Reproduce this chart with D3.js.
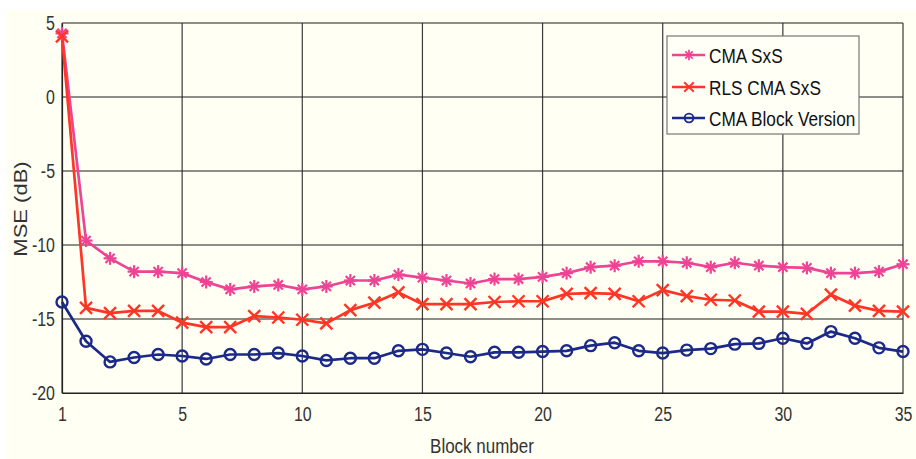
<!DOCTYPE html>
<html><head><meta charset="utf-8">
<script src="https://cdn.jsdelivr.net/npm/d3@7/dist/d3.min.js"></script>
<style>
body{margin:0;background:#fff;}
text{font-family:"Liberation Sans",Arial,sans-serif;}
</style></head>
<body><svg id="c" width="916" height="459"></svg>
<script>
const blocks = d3.range(0, 36);
const cmaSxS = [4.3,-9.7,-10.9,-11.8,-11.8,-11.9,-12.5,-13.0,-12.8,-12.7,-13.0,-12.8,-12.4,-12.4,-12.0,-12.2,-12.4,-12.6,-12.3,-12.3,-12.15,-11.9,-11.5,-11.4,-11.1,-11.1,-11.2,-11.5,-11.2,-11.4,-11.5,-11.55,-11.9,-11.9,-11.8,-11.3];
const rlsCmaSxS = [4.1,-14.25,-14.6,-14.45,-14.45,-15.25,-15.55,-15.55,-14.8,-14.9,-15.05,-15.3,-14.4,-13.9,-13.2,-14.0,-14.0,-14.0,-13.85,-13.8,-13.8,-13.3,-13.25,-13.3,-13.8,-13.05,-13.45,-13.7,-13.75,-14.5,-14.5,-14.65,-13.35,-14.1,-14.45,-14.5];
const cmaBlock = [-13.85,-16.5,-17.9,-17.6,-17.4,-17.5,-17.7,-17.4,-17.4,-17.3,-17.5,-17.8,-17.65,-17.65,-17.15,-17.05,-17.3,-17.55,-17.25,-17.25,-17.2,-17.15,-16.8,-16.6,-17.15,-17.3,-17.1,-17.0,-16.7,-16.65,-16.3,-16.65,-15.85,-16.3,-16.95,-17.2];
const xTicks = [0,5,10,15,20,25,30,35];
const xTickLabels = ["1","5","10","15","20","25","30","35"];
const yTicks = [-20,-15,-10,-5,0,5];
const seriesNames = ["CMA SxS","RLS CMA SxS","CMA Block Version"];

const svg = d3.select("#c");
const m = {l:62, t:23, r:903, b:393};
svg.append("rect").attr("x",6).attr("y",10).attr("width",910).attr("height",449).attr("fill","#fffff3");

const x = d3.scaleLinear().domain([0,35]).range([m.l,m.r]);
const y = d3.scaleLinear().domain([-20,5]).range([m.b,m.t]);

// grid
const g = svg.append("g");
g.selectAll(".vg").data(xTicks).join("line").attr("x1",d=>x(d)).attr("x2",d=>x(d)).attr("y1",m.t).attr("y2",m.b).attr("stroke","#3a3a3a").attr("stroke-width",1.2);
g.selectAll(".hg").data(yTicks).join("line").attr("y1",d=>y(d)).attr("y2",d=>y(d)).attr("x1",m.l).attr("x2",m.r).attr("stroke","#1e1e1e").attr("stroke-width",1.2);

// axes
const xa = svg.append("g").attr("transform",`translate(0,${m.b})`).call(d3.axisBottom(x).tickValues(xTicks).tickFormat((d,i)=>xTickLabels[i]).tickSize(0).tickPadding(12));
const ya = svg.append("g").attr("transform",`translate(${m.l},0)`).call(d3.axisLeft(y).tickValues(yTicks).tickFormat(d=>d).tickSize(0));
[xa,ya].forEach(a=>{a.select(".domain").attr("stroke","#222").attr("stroke-width",1.2);a.selectAll("text").attr("font-size",21).attr("fill","#333");});
xa.selectAll("text").attr("dy","0.75em").attr("transform","scale(0.76,1)");
ya.selectAll("text").attr("x",0).attr("transform","translate(-7,0) scale(0.76,1)");
svg.append("text").attr("transform","translate(482,453) scale(0.85,1)").attr("text-anchor","middle").attr("font-size",20).attr("fill","#333").text("Block number");
svg.append("text").attr("transform","translate(27,209) rotate(-90) scale(1,0.8)").attr("text-anchor","middle").attr("font-size",22).attr("fill","#333").text("MSE (dB)");

const colors = ["#ee4495","#ff3525","#1b2a8a"];
const data = [cmaSxS, rlsCmaSxS, cmaBlock];
const line = d3.line().x((d,i)=>x(blocks[i])).y(d=>y(d));

function marker(sel, type, color){
  if(type===0){ // asterisk
    const r=6.5;
    [0,45,90,135].forEach(a=>{
      const rad=a*Math.PI/180;
      sel.append("line").attr("x1",-r*Math.cos(rad)).attr("y1",-r*Math.sin(rad)).attr("x2",r*Math.cos(rad)).attr("y2",r*Math.sin(rad)).attr("stroke",color).attr("stroke-width",2.2);
    });
  } else if(type===1){ // x
    const r=6;
    sel.append("line").attr("x1",-r).attr("y1",-r).attr("x2",r).attr("y2",r).attr("stroke",color).attr("stroke-width",2.4);
    sel.append("line").attr("x1",-r).attr("y1",r).attr("x2",r).attr("y2",-r).attr("stroke",color).attr("stroke-width",2.4);
  } else {
    sel.append("circle").attr("r",5.5).attr("fill","none").attr("stroke",color).attr("stroke-width",2.4);
  }
}

data.forEach((vals,k)=>{
  svg.append("path").datum(vals).attr("d",line).attr("fill","none").attr("stroke",colors[k]).attr("stroke-width",2.7).attr("stroke-linejoin","round");
});
data.forEach((vals,k)=>{
  vals.forEach((v,i)=>{
    const mg = svg.append("g").attr("transform",`translate(${x(blocks[i])},${y(v)})`);
    marker(mg,k,colors[k]);
  });
});

// legend
const lg = svg.append("g");
lg.append("rect").attr("x",667).attr("y",36).attr("width",192).attr("height",98).attr("fill","#fffff6").attr("stroke","#777").attr("stroke-width",1.2);
const rows=[55,87,118];
seriesNames.forEach((n,k)=>{
  lg.append("line").attr("x1",672).attr("x2",705).attr("y1",rows[k]).attr("y2",rows[k]).attr("stroke",colors[k]).attr("stroke-width",2.4);
  const mg = lg.append("g").attr("transform",`translate(689,${rows[k]}) scale(0.8)`);
  marker(mg,k,colors[k]);
  lg.append("text").attr("transform",`translate(709,${rows[k]}) scale(0.82,1)`).attr("dy","0.36em").attr("font-size",21).attr("fill","#111").text(n);
});
</script></body></html>
